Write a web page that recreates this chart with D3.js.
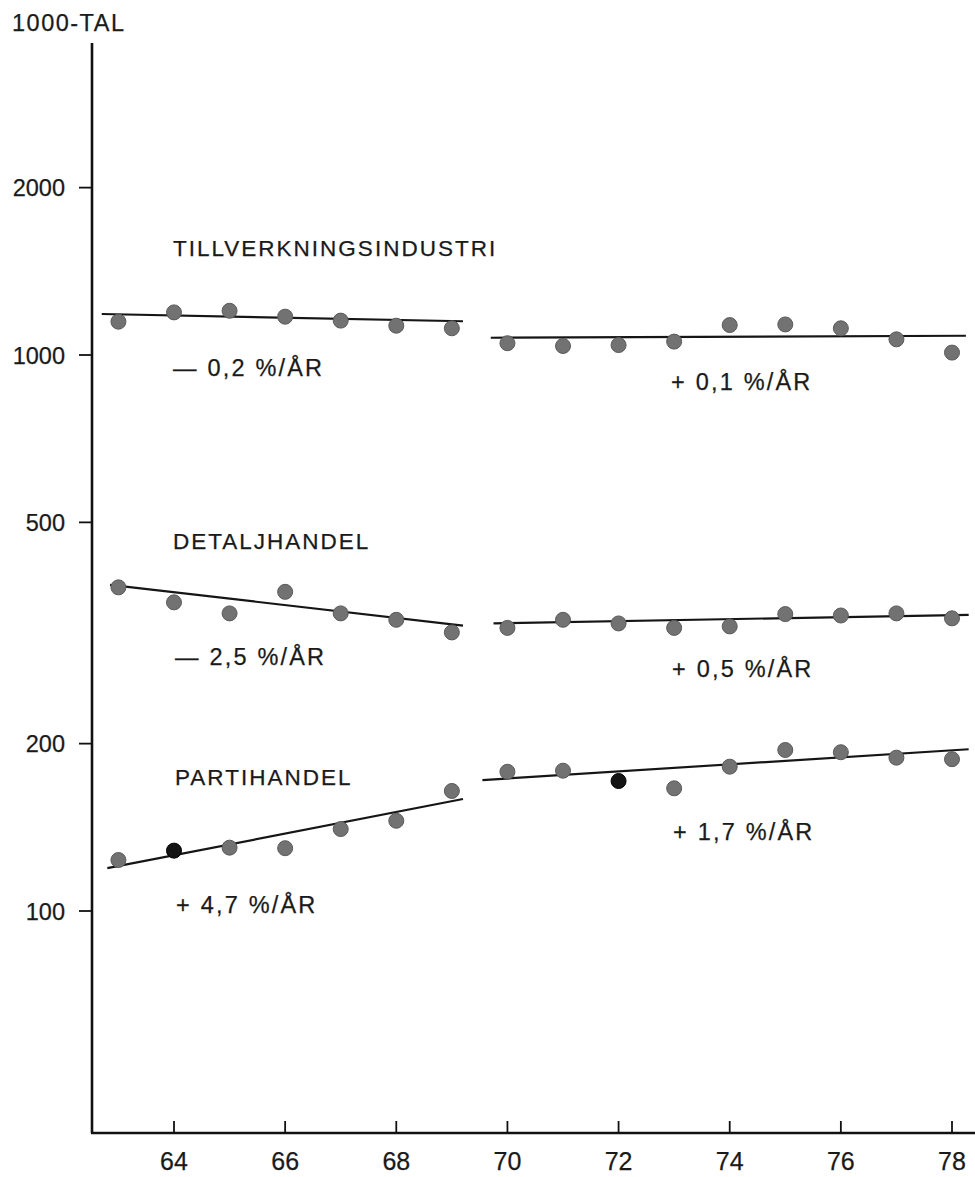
<!DOCTYPE html>
<html>
<head>
<meta charset="utf-8">
<script src="https://cdn.jsdelivr.net/npm/d3@7"></script>
<style>
  html, body { margin: 0; padding: 0; background: #fff; }
  svg { display: block; }
  text { font-family: "Liberation Sans", Arial, Helvetica, sans-serif; fill: #1a1a1a; stroke: #1a1a1a; stroke-width: 0.25; }
</style>
</head>
<body>
<script>
// ---------- DATA ----------
const yearsA = [63, 64, 65, 66, 67, 68, 69];
const yearsB = [70, 71, 72, 73, 74, 75, 76, 77, 78];

const tillvA = [1148, 1193, 1201, 1172, 1153, 1129, 1117];
const tillvB = [1050, 1038, 1042, 1057, 1132, 1135, 1117, 1067, 1010];
const detaljA = [382, 359, 343, 375, 343, 334, 317];
const detaljB = [323, 334, 329, 323, 325, 342, 340, 343, 336];
const partiA = [123.5, 128.4, 130, 129.7, 140.4, 145.3, 164.4];
const partiB = [178, 178.8, 171.3, 166.2, 181.8, 194.8, 193, 188.7, 187.5];

// trend lines: [startYear, startValue, endYear, endValue]
const trendTillvA = [62.7, 1185, 69.2, 1150];
const trendTillvB = [69.7, 1074, 78.25, 1083];
const trendDetaljA = [62.85, 386, 69.2, 326];
const trendDetaljB = [69.75, 329, 78.3, 341];
const trendPartiA = [62.8, 119.4, 69.2, 159];
const trendPartiB = [69.55, 172, 78.3, 195.4];

// points printed darker in the original
const darkPoints = [["parti", 64], ["parti", 72]];

const yTickValues = [100, 200, 500, 1000, 2000];
const xTickValues = [64, 66, 68, 70, 72, 74, 76, 78];
const yUnitLabel = "1000-TAL";

const seriesNames = ["TILLVERKNINGSINDUSTRI", "DETALJHANDEL", "PARTIHANDEL"];
const rateLabels = ["— 0,2 %/ÅR", "+ 0,1 %/ÅR", "— 2,5 %/ÅR", "+ 0,5 %/ÅR", "+ 4,7 %/ÅR", "+ 1,7 %/ÅR"];

// ---------- LAYOUT ----------
const W = 975, H = 1177;
const axisX = 92, axisBottom = 1133, axisTop = 43;

const x = d3.scaleLinear().domain([64, 78]).range([174, 952]);
const y = d3.scaleLog().domain([100, 1000]).range([911, 355]);

const svg = d3.select("body").append("svg")
  .attr("width", W).attr("height", H);

// axes lines
svg.append("line")
  .attr("x1", axisX).attr("x2", axisX)
  .attr("y1", axisTop).attr("y2", axisBottom)
  .attr("stroke", "#111").attr("stroke-width", 2.6);
svg.append("line")
  .attr("x1", axisX - 1).attr("x2", W)
  .attr("y1", axisBottom).attr("y2", axisBottom)
  .attr("stroke", "#111").attr("stroke-width", 2.4);

// y ticks
const yt = svg.append("g");
yt.selectAll("line").data(yTickValues).join("line")
  .attr("x1", axisX - 13).attr("x2", axisX)
  .attr("y1", d => y(d)).attr("y2", d => y(d))
  .attr("stroke", "#111").attr("stroke-width", 1.8);
yt.selectAll("text").data(yTickValues).join("text")
  .attr("x", 65).attr("y", d => y(d) + 8.5)
  .attr("text-anchor", "end")
  .attr("font-size", 23.5)
  .text(d => d);

// x ticks
const xt = svg.append("g");
xt.selectAll("line").data(xTickValues).join("line")
  .attr("x1", d => x(d)).attr("x2", d => x(d))
  .attr("y1", axisBottom - 12).attr("y2", axisBottom)
  .attr("stroke", "#111").attr("stroke-width", 1.8);
xt.selectAll("text").data(xTickValues).join("text")
  .attr("x", d => x(d)).attr("y", 1170)
  .attr("text-anchor", "middle")
  .attr("font-size", 25)
  .text(d => d);

// unit label
svg.append("text")
  .attr("x", 12).attr("y", 31)
  .attr("font-size", 23.5)
  .attr("letter-spacing", 1.5)
  .text(yUnitLabel);

// trend lines
const trends = [trendTillvA, trendTillvB, trendDetaljA, trendDetaljB, trendPartiA, trendPartiB];
svg.append("g").selectAll("line").data(trends).join("line")
  .attr("x1", d => x(d[0])).attr("y1", d => y(d[1]))
  .attr("x2", d => x(d[2])).attr("y2", d => y(d[3]))
  .attr("stroke", "#151515").attr("stroke-width", 2.2);

// points
const series = [
  { key: "tillv", years: yearsA, vals: tillvA },
  { key: "tillv", years: yearsB, vals: tillvB },
  { key: "detalj", years: yearsA, vals: detaljA },
  { key: "detalj", years: yearsB, vals: detaljB },
  { key: "parti", years: yearsA, vals: partiA },
  { key: "parti", years: yearsB, vals: partiB }
];
const pts = [];
series.forEach(s => s.years.forEach((yr, i) => pts.push({ key: s.key, yr, v: s.vals[i] })));
const isDark = p => darkPoints.some(d => d[0] === p.key && d[1] === p.yr);

svg.append("g").selectAll("circle").data(pts).join("circle")
  .attr("cx", d => x(d.yr)).attr("cy", d => y(d.v))
  .attr("r", 7.5)
  .attr("fill", d => isDark(d) ? "#141414" : "#727272")
  .attr("stroke", d => isDark(d) ? "#000" : "#5a5a5a")
  .attr("stroke-width", 1);

// series names
const nameLayout = [[173, 256], [173, 549], [175, 785]];
svg.append("g").selectAll("text").data(seriesNames).join("text")
  .attr("x", (d, i) => nameLayout[i][0]).attr("y", (d, i) => nameLayout[i][1])
  .attr("font-size", 22.5)
  .attr("letter-spacing", 2)
  .text(d => d);

// rate labels
const rateLayout = [[173, 376], [671, 390], [175, 665], [672, 677], [176, 913], [673, 840]];
svg.append("g").selectAll("text").data(rateLabels).join("text")
  .attr("x", (d, i) => rateLayout[i][0]).attr("y", (d, i) => rateLayout[i][1])
  .attr("font-size", 23.5)
  .attr("letter-spacing", 2.2)
  .text(d => d);
</script>
</body>
</html>
